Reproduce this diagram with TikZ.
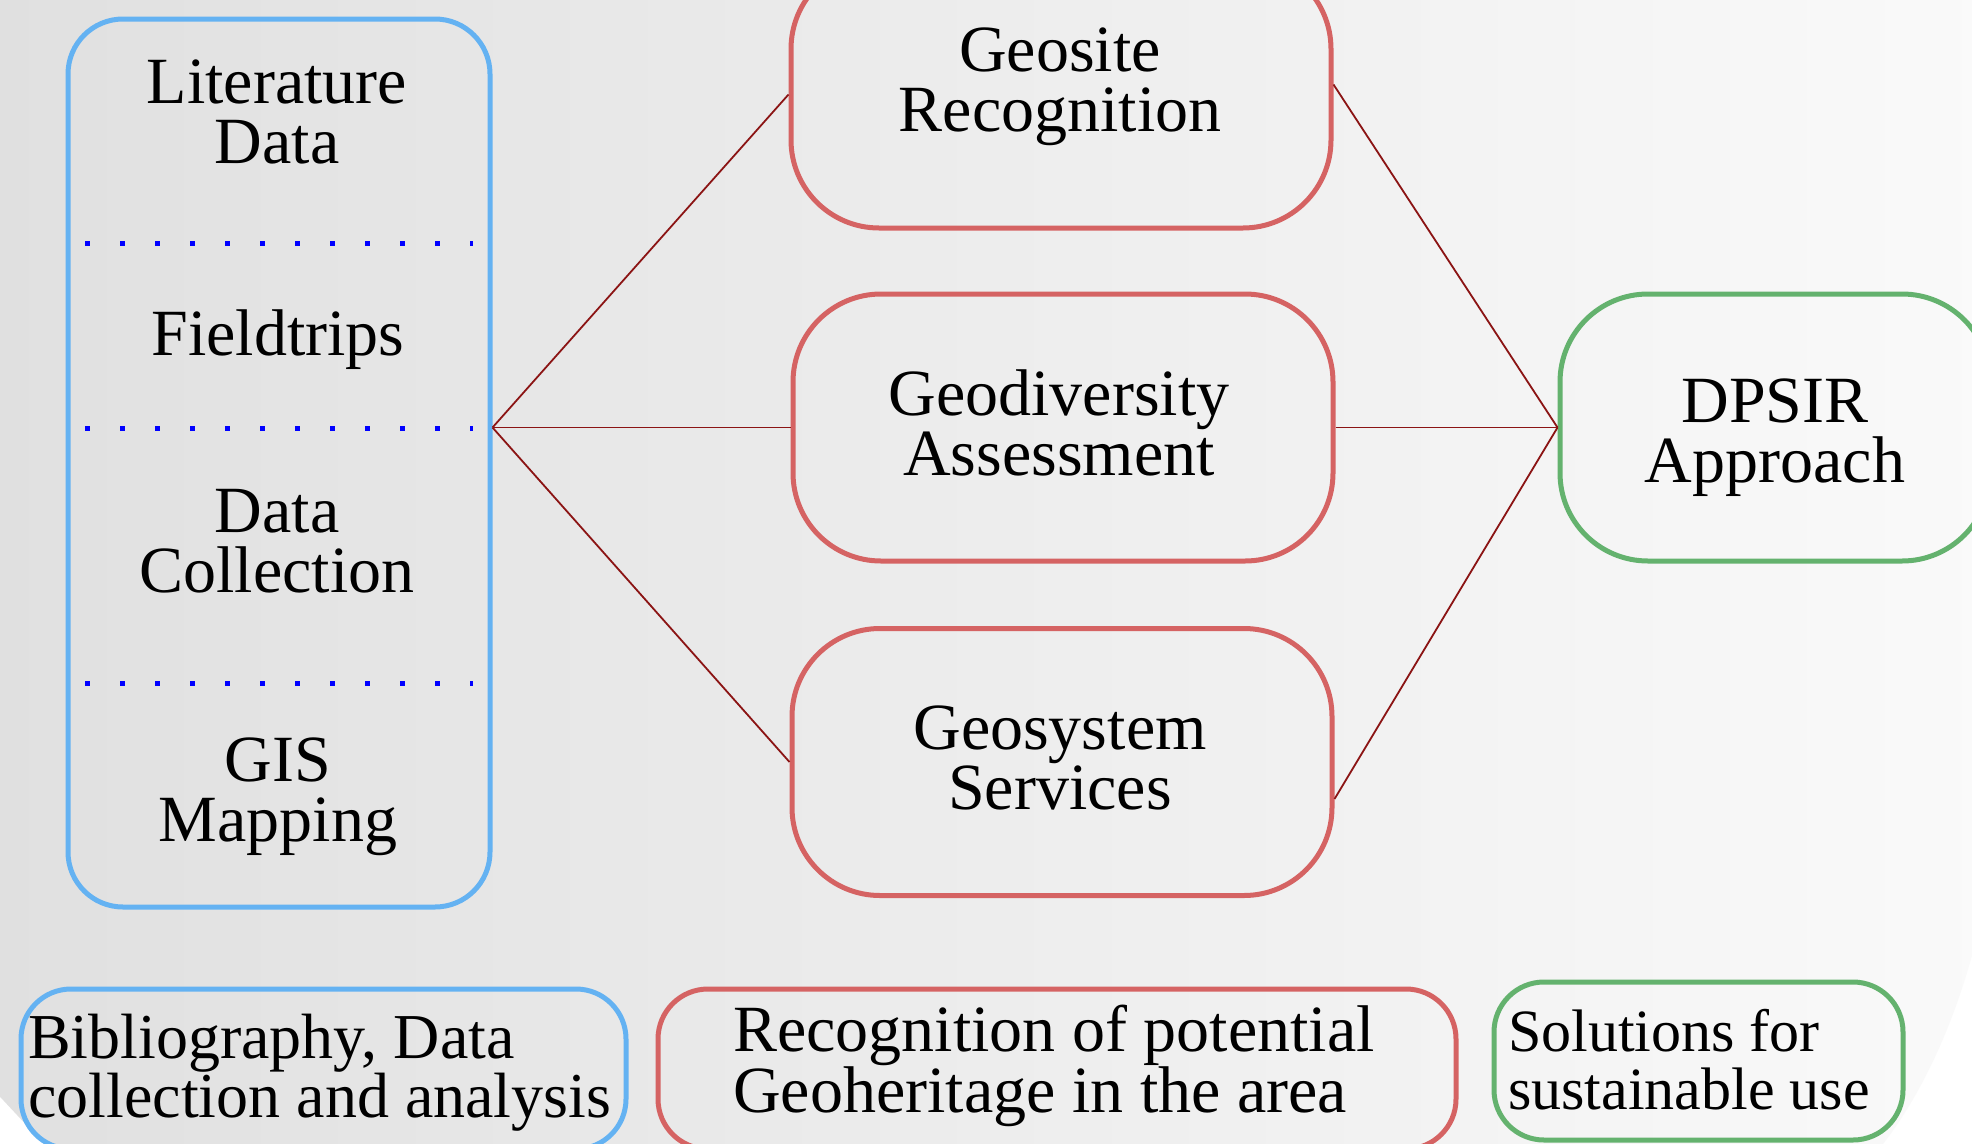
\documentclass[tikz,border=0pt]{standalone}
\usepackage{fontspec}
\setmainfont{Liberation Serif}
\definecolor{bgL}{RGB}{224,224,224}
\definecolor{bgR}{RGB}{250,250,250}
\definecolor{bluebox}{RGB}{100,178,242}
\definecolor{redbox}{RGB}{213,99,99}
\definecolor{greenbox}{RGB}{100,178,110}
\definecolor{conn}{RGB}{139,20,20}
\definecolor{dotblue}{RGB}{0,0,255}
\begin{document}
\begin{tikzpicture}[x=1pt,y=-1pt,
  srcbox/.style={draw=bluebox, line width=5pt, rounded corners=55pt, minimum width=422pt, minimum height=888pt, inner sep=0pt},
  stagebox/.style={draw=redbox, line width=5pt, rounded corners=88pt, minimum width=540pt, minimum height=267pt, inner sep=0pt},
  goalbox/.style={draw=greenbox, line width=5pt, rounded corners=88pt, minimum width=430pt, minimum height=267pt, inner sep=0pt},
  legbox/.style={line width=5pt, rounded corners=50pt, inner sep=0pt},
  boxtxt/.style={font=\fontsize{66}{60}\selectfont, align=center, inner sep=0pt, anchor=base},
  legtxt/.style={align=left, inner sep=0pt, anchor=base west},
  sepdots/.style={draw=dotblue, line width=5pt, dash pattern=on 5pt off 30pt},
  link/.style={draw=conn, line width=1.8pt}]
\useasboundingbox (0,0) rectangle (1972,1143);
\clip (0,0) rectangle (1972,1143);
\fill[white] (0,0) rectangle (1972,1143);
\shade[left color=bgL, right color=bgR] (-10,-10) -- (2000,-10) -- (2000,800) .. controls (1985,960) and (1935,1085) .. (1870,1160) -- (59,1160) -- (-10,1086) -- cycle;

% left column
\node[srcbox] (src) at (279,463) {};
\node[boxtxt] (lit) at (277,163) {Literature\\Data};
\node[boxtxt] (field) at (278,355) {Fieldtrips};
\node[boxtxt] (coll) at (277,592) {Data\\Collection};
\node[boxtxt] (gis) at (278,841) {GIS\\Mapping};
\coordinate (d1a) at (85,243); \coordinate (d1b) at (473,243);
\coordinate (d2a) at (85,428); \coordinate (d2b) at (473,428);
\coordinate (d3a) at (85,683); \coordinate (d3b) at (473,683);
\draw[sepdots] (d1a) -- (d1b);
\draw[sepdots] (d2a) -- (d2b);
\draw[sepdots] (d3a) -- (d3b);

% middle column
\node[stagebox] (top) at (1061,94.5) {};
\node[boxtxt] (toptxt) at (1060,131) {Geosite\\Recognition};
\node[stagebox] (mid) at (1063,427.5) {};
\node[boxtxt] (midtxt) at (1059,475) {Geodiversity\\Assessment};
\node[stagebox] (bot) at (1062,762) {};
\node[boxtxt] (bottxt) at (1060,809) {Geosystem\\Services};

% right
\node[goalbox] (dpsir) at (1775,427.5) {};
\node[boxtxt] (dpsirtxt) at (1775,482) {DPSIR\\Approach};

% connectors
\draw[link] (src.east |- mid.west) -- (top.west);
\draw[link] (src.east |- mid.west) -- (mid.west);
\draw[link] (src.east |- mid.west) -- (bot.west);
\draw[link] ([yshift=10pt]top.east) -- (dpsir.west);
\draw[link] (mid.east) -- (dpsir.west);
\draw[link] ([yshift=-37pt]bot.east) -- (dpsir.west);

% legend
\node[legbox, draw=bluebox, minimum width=605pt, minimum height=160pt] (legA) at (323.5,1069) {};
\node[legtxt, font=\fontsize{64}{59}\selectfont] (legAtxt) at (28,1117) {Bibliography, Data\\collection and analysis};
\node[legbox, draw=redbox, minimum width=798pt, minimum height=160pt] (legB) at (1057,1069) {};
\node[legtxt, font=\fontsize{66}{61}\selectfont] (legBtxt) at (733,1112) {Recognition of potential\\Geoheritage in the area};
\node[legbox, draw=greenbox, minimum width=409pt, minimum height=158pt] (legC) at (1698.5,1061) {};
\node[legtxt, font=\fontsize{60}{58}\selectfont] (legCtxt) at (1508,1109) {Solutions for\\sustainable use};
\end{tikzpicture}
\end{document}
